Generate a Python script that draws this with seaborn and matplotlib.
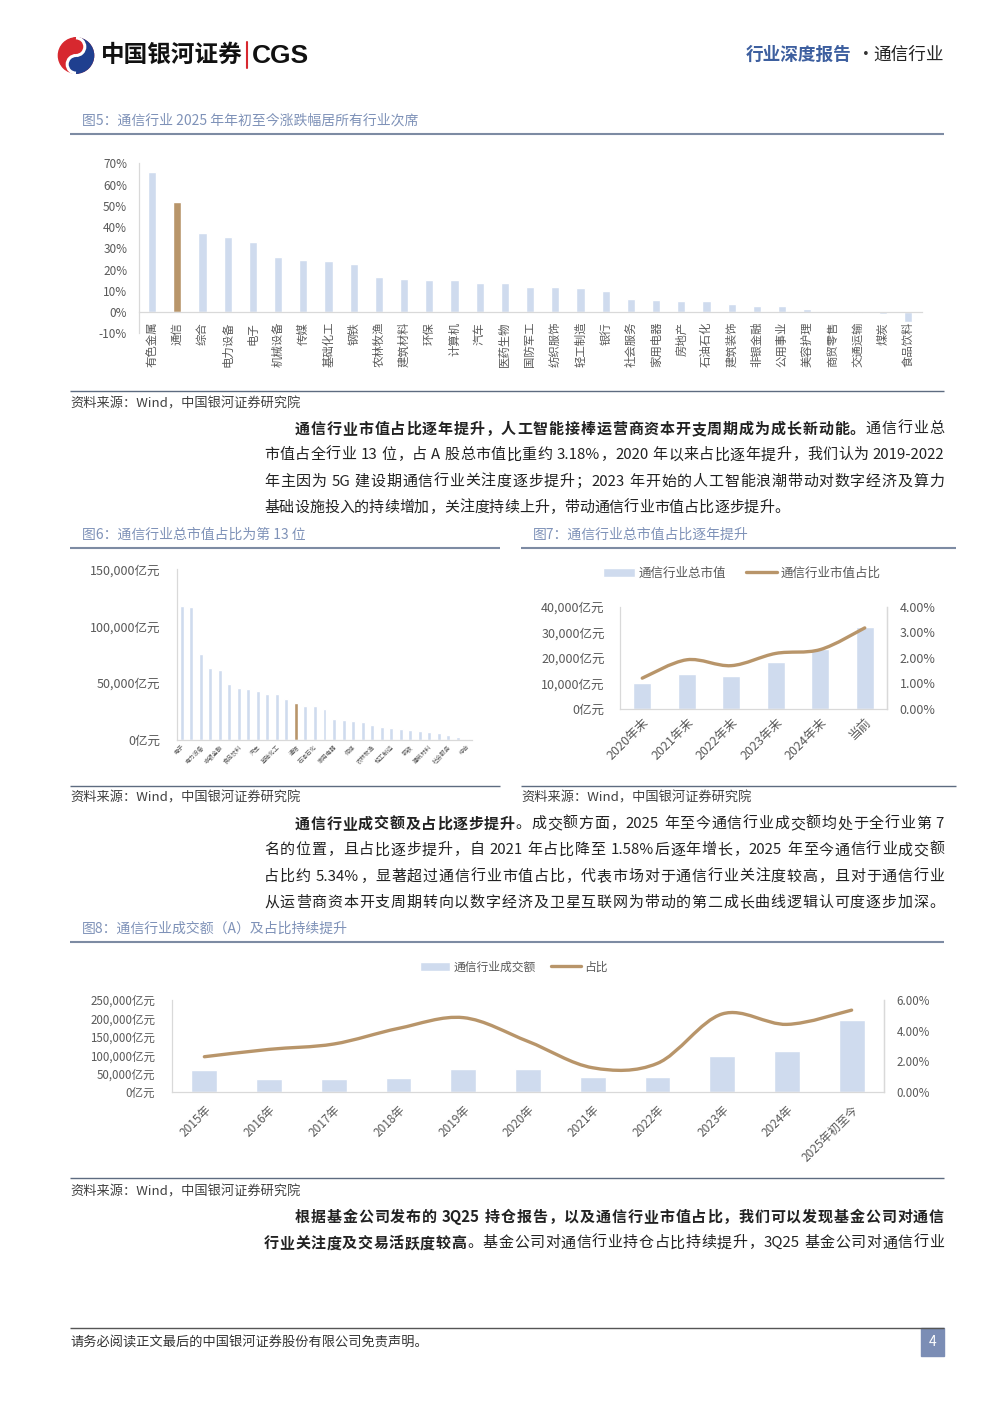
import re

import matplotlib
matplotlib.use('Agg')
import matplotlib.pyplot as plt
import numpy as np
import pandas as pd
import seaborn as sns
from matplotlib.lines import Line2D
from matplotlib.patches import Arc, Circle, Patch, PathPatch, Rectangle, Wedge
from matplotlib.path import Path

# ---- data ----
fig5_ind = ['有色金属', '通信', '综合', '电力设备', '电子', '机械设备', '传媒', '基础化工', '钢铁',
            '农林牧渔', '建筑材料', '环保', '计算机', '汽车', '医药生物', '国防军工', '纺织服饰',
            '轻工制造', '银行', '社会服务', '家用电器', '房地产', '石油石化', '建筑装饰', '非银金融',
            '公用事业', '美容护理', '商贸零售', '交通运输', '煤炭', '食品饮料']
fig5_chg = [66.0, 52.0, 37.4, 35.5, 32.9, 25.8, 24.6, 24.1, 22.4, 16.6, 15.6, 15.3, 15.0, 13.9,
            13.7, 11.7, 11.6, 11.3, 10.0, 6.3, 5.9, 5.3, 5.2, 3.8, 3.0, 2.7, 1.6, 0.6, -0.5, -1.1, -4.7]

fig6_ind = ['电子', '银行', '电力设备', '医药生物', '非银金融', '机械设备', '食品饮料', '计算机', '汽车',
            '有色金属', '基础化工', '公用事业', '通信', '国防军工', '石油石化', '交通运输', '家用电器',
            '煤炭', '传媒', '建筑装饰', '农林牧渔', '房地产', '轻工制造', '商贸零售', '钢铁', '纺织服饰',
            '建筑材料', '环保', '社会服务', '美容护理', '综合']
fig6_cap = [118000, 117100, 75600, 63700, 61600, 48800, 45900, 44900, 42700, 40500, 40200, 35600,
            32600, 30300, 30000, 27500, 18400, 17400, 16400, 15600, 13400, 11600, 10300, 9900, 9200,
            8100, 7400, 6100, 4400, 2200, 900]

fig7_years = ['2020年末', '2021年末', '2022年末', '2023年末', '2024年末', '当前']
fig7_cap = [10300, 13800, 13100, 18400, 23500, 32000]
fig7_share = [1.21, 1.93, 1.70, 2.18, 2.33, 3.18]

fig8_years = ['2015年', '2016年', '2017年', '2018年', '2019年', '2020年', '2021年', '2022年',
              '2023年', '2024年', '2025年初至今']
fig8_amt = [59800, 35300, 35300, 39000, 61600, 62500, 39900, 40800, 98700, 111400, 194700]
fig8_share = [2.30, 2.78, 3.13, 4.15, 4.85, 3.30, 1.58, 1.87, 5.09, 4.41, 5.34]

para1 = [
    (295, True, [('通信行业市值占比逐年提升，人工智能接棒运营商资本开支周期成为成长新动能。', True), ('通信行业总', False)]),
    (264, True, [('市值占全行业 13 位，占 A 股总市值比重约 3.18%，2020 年以来占比逐年提升，我们认为 2019-2022', False)]),
    (264, True, [('年主因为 5G 建设期通信行业关注度逐步提升；2023 年开始的人工智能浪潮带动对数字经济及算力', False)]),
    (264, False, [('基础设施投入的持续增加，关注度持续上升，带动通信行业市值占比逐步提升。', False)]),
]
para2 = [
    (295, True, [('通信行业成交额及占比逐步提升', True), ('。成交额方面，2025 年至今通信行业成交额均处于全行业第 7', False)]),
    (264, True, [('名的位置，且占比逐步提升，自 2021 年占比降至 1.58%后逐年增长，2025 年至今通信行业成交额', False)]),
    (264, True, [('占比约 5.34%，显著超过通信行业市值占比，代表市场对于通信行业关注度较高，且对于通信行业', False)]),
    (264, True, [('从运营商资本开支周期转向以数字经济及卫星互联网为带动的第二成长曲线逻辑认可度逐步加深。', False)]),
]
para3 = [
    (295, True, [('根据基金公司发布的 3Q25 持仓报告，以及通信行业市值占比，我们可以发现基金公司对通信', True)]),
    (264, True, [('行业关注度及交易活跃度较高', True), ('。基金公司对通信行业持仓占比持续提升，3Q25 基金公司对通信行业', False)]),
]

# ---- style ----
sns.set_theme(style='white')
plt.rcParams['font.family'] = ['Noto Sans CJK SC', 'DejaVu Sans']
plt.rcParams['axes.unicode_minus'] = False

W, H = 992, 1403
BLUE = '#cfdbee'
TAN = '#b8956a'
AXC = '#d9d9d9'
TXT = '#595959'
CAP = '#7f92b8'
RULE = '#7d8ba3'
BODY = '#222222'

fig = plt.figure(figsize=(W / 100, H / 100), dpi=100)
bg = fig.add_axes([0, 0, 1, 1], zorder=0)
bg.set_xlim(0, W)
bg.set_ylim(H, 0)
bg.axis('off')
renderer = fig.canvas.get_renderer()


def add_ax(x0, y0, x1, y1):
    ax = fig.add_axes([x0 / W, 1 - y1 / H, (x1 - x0) / W, (y1 - y0) / H])
    ax.set_facecolor('none')
    return ax


def style_axes(ax, size, spines):
    for s in ax.spines:
        ax.spines[s].set_visible(s in spines)
        ax.spines[s].set_color(AXC)
        ax.spines[s].set_linewidth(0.9)
    ax.tick_params(length=0, labelsize=size, labelcolor=TXT)
    ax.set_xlabel('')
    ax.set_ylabel('')


def smooth_path(xs, ys):
    # excel-like smoothed line through the data points (catmull-rom as bezier)
    pts = np.column_stack([xs, ys]).astype(float)
    verts, codes = [pts[0]], [Path.MOVETO]
    n = len(pts)
    for i in range(n - 1):
        p0, p1 = pts[max(i - 1, 0)], pts[i]
        p2, p3 = pts[i + 1], pts[min(i + 2, n - 1)]
        verts += [p1 + (p2 - p0) / 6, p2 - (p3 - p1) / 6, p2]
        codes += [Path.CURVE4] * 3
    return Path(verts, codes)


def rule(x0, x1, y, color=RULE, lw=1.5):
    bg.plot([x0, x1], [y, y], color=color, lw=lw, solid_capstyle='butt')


def caption(x, y, s):
    bg.text(x, y, s, fontsize=10, color=CAP, va='center', ha='left')


def source(x, y):
    bg.text(x, y, '资料来源：Wind，中国银河证券研究院', fontsize=9.5, color='#404040',
            va='center', ha='left', style='italic')


TOKEN = re.compile(r'[A-Za-z0-9.%\-]+|\s|.')


def text_width(s, size, bold):
    t = bg.text(0, 0, s, fontsize=size, fontweight='bold' if bold else 'normal')
    w = t.get_window_extent(renderer).width
    t.remove()
    return w


def put_line(x0, x1, y, parts, justify, size=10.8):
    em = size * 100 / 72
    toks = []
    for s, bold in parts:
        for m in TOKEN.finditer(s):
            toks.append((m.group(), bold))
    widths = []
    for t, bold in toks:
        if t.isspace():
            widths.append(em * 0.22)
        elif ord(t[0]) > 0x2000:
            widths.append(em)
        else:
            widths.append(text_width(t, size, bold))
    gap = (x1 - x0 - sum(widths)) / (len(toks) - 1) if justify else 0
    x = x0
    for (t, bold), w in zip(toks, widths):
        if not t.isspace():
            bg.text(x, y, t, fontsize=size, color=BODY, va='center', ha='left',
                    fontweight='bold' if bold else 'normal')
        x += w + gap


def paragraph(lines, y0, step=26.3):
    for i, (x0, just, parts) in enumerate(lines):
        put_line(x0, 944, y0 + i * step, parts, just)


# ---- header ----
lg = add_ax(57, 37, 95, 74)
lg.set_xlim(-1.05, 1.05)
lg.set_ylim(-1.05, 1.05)
lg.set_aspect('equal')
lg.axis('off')
lg.add_patch(Circle((0, 0), 1, color='#d7282f'))
lg.add_patch(Wedge((0, 0), 1, -90, 90, color='#1f3f8f'))
lg.add_patch(Circle((0, 0.5), 0.5, color='#d7282f'))
lg.add_patch(Circle((0, -0.5), 0.5, color='#1f3f8f'))
lg.add_patch(Arc((0, 0.5), 1, 1, theta1=-90, theta2=90, color='white', lw=2.2))
lg.add_patch(Arc((0, -0.5), 1, 1, theta1=90, theta2=270, color='white', lw=2.2))

bg.text(101, 55, '中国银河证券', fontsize=17, fontweight='bold', color='#111111', va='center', ha='left')
bg.plot([247, 247], [42, 68], color='#d7282f', lw=1.5)
bg.text(252, 56, 'CGS', fontsize=19, fontweight='bold', color='#111111', va='center', ha='left',
        family=['Liberation Sans', 'DejaVu Sans'])
bg.text(746, 55, '行业深度报告', fontsize=12.7, fontweight='bold', color='#3d5f9f', va='center', ha='left')
bg.text(866, 55, '·', fontsize=12.7, color='#333333', va='center', ha='center')
bg.text(944, 55, '通信行业', fontsize=12.7, color='#222222', va='center', ha='right')

# ---- fig 5 ----
caption(82, 121, '图5：通信行业 2025 年年初至今涨跌幅居所有行业次席')
rule(70, 944, 134)
ax5 = add_ax(139, 163.3, 922, 333.3)
df5 = pd.DataFrame({'行业': fig5_ind, '涨跌幅': fig5_chg})
pal5 = {k: (TAN if k == '通信' else BLUE) for k in fig5_ind}
sns.barplot(data=df5, x='行业', y='涨跌幅', hue='行业', palette=pal5, legend=False,
            width=0.33, saturation=1, ax=ax5)
ax5.set_ylim(-10, 70)
ax5.set_xlim(-0.52, 30.55)
ax5.set_yticks(range(-10, 71, 10))
ax5.set_yticklabels([f'{v}%' for v in range(-10, 71, 10)])
style_axes(ax5, 8.5, ('left', 'bottom'))
ax5.spines['bottom'].set_position(('data', 0))
ax5.tick_params(axis='y', pad=8.5)
ax5.tick_params(axis='x', pad=7, labelsize=8.2, labelrotation=90)
rule(70, 944, 391, color='#5d6b80', lw=1)
source(70, 404)

paragraph(para1, 429)

# ---- fig 6 ----
caption(82, 535, '图6：通信行业总市值占比为第 13 位')
rule(70, 500, 548)
ax6 = add_ax(177, 569.3, 472, 740)
pal6 = {k: (TAN if k == '通信' else BLUE) for k in fig6_ind}
sns.barplot(x=fig6_ind, y=fig6_cap, hue=fig6_ind, palette=pal6, legend=False,
            width=0.42, saturation=1, ax=ax6)
ax6.set_ylim(0, 150000)
ax6.set_xlim(-0.5, 30.5)
ax6.set_yticks(range(0, 150001, 50000))
ax6.set_yticklabels([f'{v:,}亿元' for v in range(0, 150001, 50000)])
ax6.set_xticks(range(0, len(fig6_ind), 2))
ax6.set_xticklabels(fig6_ind[::2])
style_axes(ax6, 9, ('left', 'bottom'))
ax6.tick_params(axis='y', pad=12)
ax6.tick_params(axis='x', pad=3, labelsize=4.2)
plt.setp(ax6.get_xticklabels(), rotation=45, ha='right', rotation_mode='anchor')
rule(70, 500, 786, color='#5d6b80', lw=1)
source(70, 798)

# ---- fig 7 ----
caption(533, 535, '图7：通信行业总市值占比逐年提升')
rule(521, 956, 548)
ax7 = add_ax(620, 607, 887, 709)
sns.barplot(x=fig7_years, y=fig7_cap, color=BLUE, width=0.4, saturation=1, ax=ax7)
ax7.set_ylim(0, 40000)
ax7.set_yticks(range(0, 40001, 10000))
ax7.set_yticklabels([f'{v:,}亿元' for v in range(0, 40001, 10000)])
style_axes(ax7, 9, ('left', 'bottom', 'right'))
ax7.tick_params(axis='y', pad=11)
ax7.tick_params(axis='x', pad=5)
plt.setp(ax7.get_xticklabels(), rotation=45, ha='right', rotation_mode='anchor')
ax7r = ax7.twinx()
ax7r.set_ylim(0, 4)
ax7r.set_yticks([0, 1, 2, 3, 4])
ax7r.set_yticklabels([f'{v:.2f}%' for v in [0, 1, 2, 3, 4]])
style_axes(ax7r, 9, ('right',))
ax7r.tick_params(axis='y', pad=9)
ax7r.add_patch(PathPatch(smooth_path(range(len(fig7_share)), fig7_share), fill=False,
                         edgecolor=TAN, lw=2.4, capstyle='round'))
fig.legend([Patch(facecolor=BLUE), Line2D([0], [0], color=TAN, lw=2.4)],
           ['通信行业总市值', '通信行业市值占比'], loc='center',
           bbox_to_anchor=(742 / W, 1 - 573 / H), ncol=2, frameon=False, fontsize=9,
           handlelength=2.5, handletextpad=0.3, columnspacing=1.6, labelcolor=TXT)
rule(521, 956, 786, color='#5d6b80', lw=1)
source(521, 798)

paragraph(para2, 824)

# ---- fig 8 ----
caption(82, 929, '图8：通信行业成交额（A）及占比持续提升')
rule(70, 944, 942)
ax8 = add_ax(172, 1000, 884, 1092)
sns.barplot(x=fig8_years, y=fig8_amt, color=BLUE, width=0.4, saturation=1, ax=ax8)
ax8.set_ylim(0, 250000)
ax8.set_yticks(range(0, 250001, 50000))
ax8.set_yticklabels([f'{v:,}亿元' for v in range(0, 250001, 50000)])
style_axes(ax8, 8.3, ('left', 'bottom', 'right'))
ax8.tick_params(axis='y', pad=12)
ax8.tick_params(axis='x', pad=8, labelsize=8.5)
plt.setp(ax8.get_xticklabels(), rotation=45, ha='right', rotation_mode='anchor')
ax8r = ax8.twinx()
ax8r.set_ylim(0, 6)
ax8r.set_yticks([0, 2, 4, 6])
ax8r.set_yticklabels([f'{v:.2f}%' for v in [0, 2, 4, 6]])
style_axes(ax8r, 8.3, ('right',))
ax8r.tick_params(axis='y', pad=9)
ax8r.add_patch(PathPatch(smooth_path(range(len(fig8_share)), fig8_share), fill=False,
                         edgecolor=TAN, lw=2.4, capstyle='round'))
fig.legend([Patch(facecolor=BLUE), Line2D([0], [0], color=TAN, lw=2.4)],
           ['通信行业成交额', '占比'], loc='center',
           bbox_to_anchor=(514 / W, 1 - 967 / H), ncol=2, frameon=False, fontsize=8.5,
           handlelength=2.5, handletextpad=0.3, columnspacing=1.3, labelcolor=TXT)
rule(70, 944, 1178, color='#5d6b80', lw=1)
source(70, 1192)

paragraph(para3, 1217)

# ---- footer ----
rule(70, 944, 1328, color='#555555', lw=1)
bg.text(70, 1343, '请务必阅读正文最后的中国银河证券股份有限公司免责声明。', fontsize=9.5,
        color='#333333', va='center', ha='left')
bg.add_patch(Rectangle((921, 1328), 23, 28, color='#7b8db5'))
bg.text(932.5, 1342, '4', fontsize=10, color='white', va='center', ha='center')

fig.savefig('out.png', dpi=100)
